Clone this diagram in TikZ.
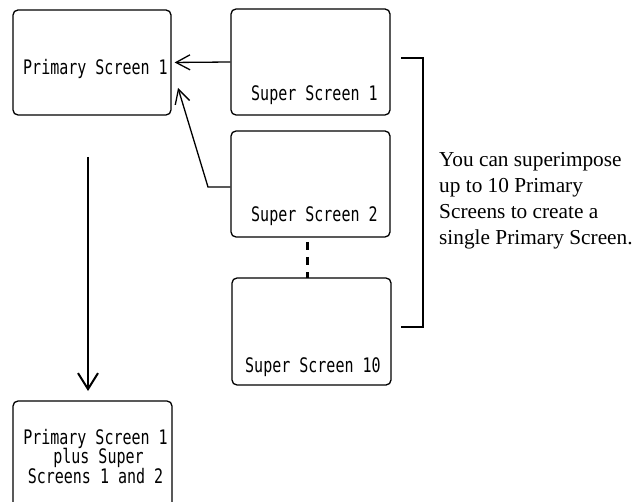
\documentclass[tikz,border=0pt]{standalone}
\usepackage{fontspec}
\usetikzlibrary{arrows.meta}
\newfontfamily\gothic[FakeStretch=0.75]{DejaVu Sans Mono}
\newfontfamily\notefont{Liberation Serif}
\begin{document}
\begin{tikzpicture}[x=1pt,y=-1pt,
  screen/.style={draw,line width=1.3pt,rounded corners=5pt,inner sep=0pt},
  lbl/.style={inner sep=0pt,anchor=base west,font=\gothic\fontsize{20}{20}\selectfont},
  reslbl/.style={inner sep=0pt,anchor=base,font=\gothic\fontsize{20}{20}\selectfont},
  arr/.style={line width=1.3pt,-{Straight Barb[length=14pt,width=15pt,line width=1.3pt]}},
  bigarr/.style={line width=2.2pt,-{Straight Barb[length=16pt,width=20pt,line width=2pt]}}]
\useasboundingbox (0,0) rectangle (636,502);
\clip (0,0) rectangle (636,502);

% screens
\node[screen,minimum width=158pt,minimum height=105pt] (prim) at (92,62.5) {};
\node[screen,minimum width=159pt,minimum height=106pt] (ss1) at (310.5,62) {};
\node[screen,minimum width=159pt,minimum height=106pt] (ss2) at (310.5,184) {};
\node[screen,minimum width=159pt,minimum height=107pt] (ss10) at (311.5,331.5) {};
\node[screen,minimum width=159pt,minimum height=114pt] (res) at (92.5,458) {};

% screen captions
\node[lbl] (primlbl) at (23,75) {Primary Screen 1};
\node[lbl] (ss1lbl) at (251,101) {Super Screen 1};
\node[lbl] (ss2lbl) at (251,222) {Super Screen 2};
\node[lbl] (ss10lbl) at (245,372) {Super Screen 10};
\node[reslbl] (res1) at (95.5,444) {Primary Screen 1};
\node[reslbl] (res2) at (98.5,463.5) {plus Super};
\node[reslbl] (res3) at (95.5,483) {Screens 1 and 2};

% overlay arrows into the primary screen
\coordinate (tip2) at (178,88);
\draw[arr,shorten >=3pt] (ss1.west) -- (prim.east);
\draw[arr] (ss2.west |- 0,187) -- (208,187) -- (tip2);

% screens in between
\draw[line width=3pt,dash pattern=on 8pt off 7pt,dash phase=-5pt] (307,237) -- (307,278);

% result arrow
\coordinate (down0) at (88,157);
\coordinate (down1) at (88,391);
\draw[bigarr] (down0) -- (down1);

% bracket and note
\coordinate (b0) at (401,58);
\coordinate (b1) at (423,58);
\coordinate (b2) at (423,327);
\coordinate (b3) at (401,327);
\draw[line width=1.5pt] (b0) -- (b1) -- (b2) -- (b3);
\node[inner sep=0pt,anchor=north west,align=left,
      font=\notefont\fontsize{21.3}{26}\selectfont] (note) at (439,152.5)
  {You can superimpose\\up to 10 Primary\\Screens to create a\\single Primary Screen.};
\end{tikzpicture}
\end{document}
